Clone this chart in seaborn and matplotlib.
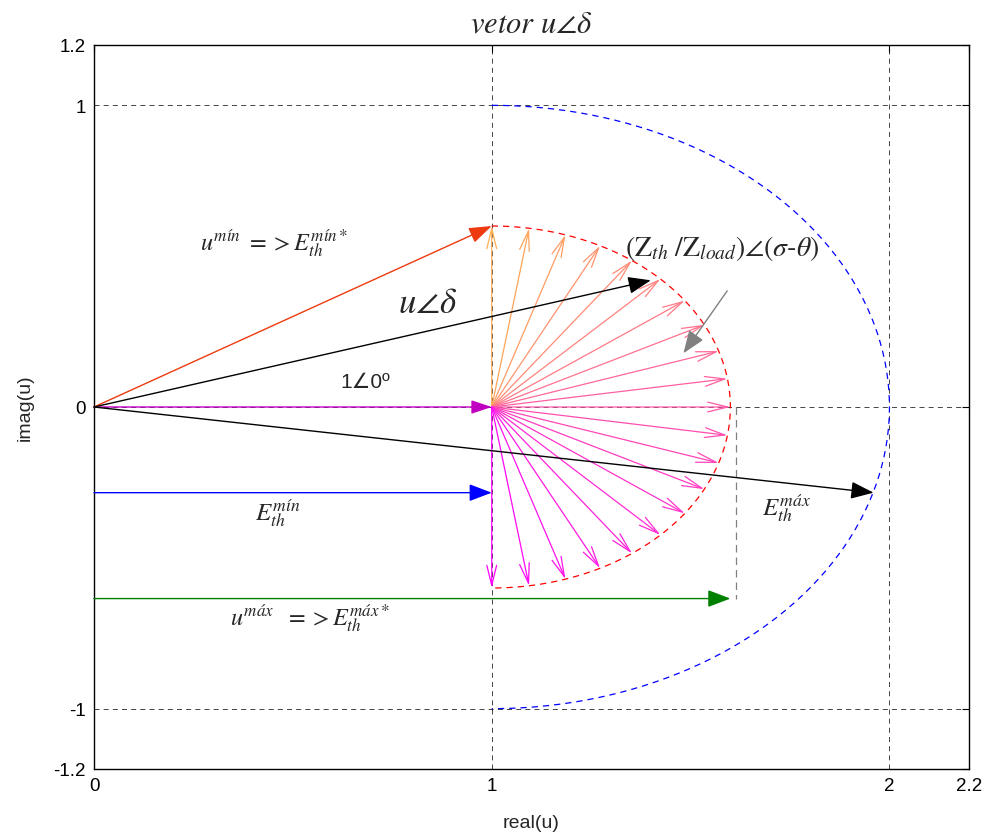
import numpy as np
import matplotlib
matplotlib.use("Agg")
import matplotlib.pyplot as plt
import seaborn as sns
import pandas as pd

# ---- data -------------------------------------------------------------
center = 1.0                      # centre of both arcs on the real axis
r_small = 0.6                     # |Zth/Zload|
r_large = 1.0                     # locus of E_th
fan_angles_deg = [90, 81, 72, 63, 54, 45, 36, 27, 18, 9, 0,
                  -9, -18, -27, -36, -45, -54, -63, -72, -81, -90]
u_delta_tip = (1.40, 0.42)
e_max_tip = (1.96, -0.284)
e_min_y = -0.284
u_max_y = -0.635
u_max_x = 1.6
xticks = [0, 1, 2, 2.2]
yticks = [-1.2, -1, 0, 1, 1.2]
xtick_labels = ["0", "1", "2", "2.2"]
ytick_labels = ["-1.2", "-1", "0", "1", "1.2"]

sns.set_style("white")
plt.rcParams["font.family"] = ["Liberation Sans", "DejaVu Sans"]
plt.rcParams["mathtext.fontset"] = "stix"

fig = plt.figure(figsize=(9.91, 8.37), dpi=100)
ax = fig.add_axes([94 / 991, 1 - 770 / 837, (969 - 94) / 991, (770 - 46) / 837])

# ---- arcs ---------------------------------------------------------------
phi = np.linspace(np.pi / 2, -np.pi / 2, 200)
arcs = pd.DataFrame({
    "x": np.concatenate([center + r_large * np.cos(phi), center + r_small * np.cos(phi)]),
    "y": np.concatenate([r_large * np.sin(phi), r_small * np.sin(phi)]),
    "arc": ["large"] * len(phi) + ["small"] * len(phi),
})
sns.lineplot(data=arcs, x="x", y="y", hue="arc", sort=False, estimator=None,
             palette={"large": "#0000ff", "small": "#ff0000"},
             linestyle=(0, (5, 4)), linewidth=0.9, legend=False, ax=ax)


def arrow(x0, y0, x1, y1, color, style="-|>", lw=0.9, hl=0.9, hw=0.3, ms=14):
    props = dict(arrowstyle=f"{style},head_length={hl},head_width={hw}", color=color,
                 lw=lw, shrinkA=0, shrinkB=0, mutation_scale=ms)
    ax.annotate("", xy=(x1, y1), xytext=(x0, y0), arrowprops=props, zorder=5)


# ---- fan of Zth/Zload vectors --------------------------------------------
cmap = plt.get_cmap("spring")
n = len(fan_angles_deg)
for i, a in enumerate(fan_angles_deg):
    t = 0.68 * (n - 1 - i) / (n - 1)
    th = np.deg2rad(a)
    arrow(center, 0, center + r_small * np.cos(th), r_small * np.sin(th),
          cmap(t), style="->", lw=0.9, hl=0.9, hw=0.22, ms=16)

# ---- main vectors ---------------------------------------------------------
arrow(0, 0, 1.0, 0.0, "#c000c0", lw=1.0)
arrow(0, 0, center, r_small, "#ee3a10", lw=1.0, hl=1.0, hw=0.35)
arrow(0, 0, *u_delta_tip, "black", lw=1.0, hl=1.0, hw=0.38)
arrow(0, 0, *e_max_tip, "black", lw=1.0, hl=1.0, hw=0.38)
arrow(0, e_min_y, 1.0, e_min_y, "#0000ff", lw=1.0, hl=1.0, hw=0.38)
arrow(0, u_max_y, u_max_x, u_max_y, "#008000", lw=1.0, hl=1.0, hw=0.38)
arrow(1.592, 0.385, 1.482, 0.178, "#808080", lw=1.0, hl=1.0, hw=0.38)
ax.plot([1.613, 1.613], [0, u_max_y], color="#808080", lw=0.9, ls=(0, (6, 4)), zorder=3)

# ---- labels --------------------------------------------------------------
ax.text(0.267, 0.545, r"$u^{mín}\ => E_{th}^{mín*}$", fontsize=17.5, va="center")
ax.text(0.765, 0.345, r"$u\angle\delta$", fontsize=25, va="center")
ax.text(0.62, 0.085, "1∠0º", fontsize=15, va="center",
        family=["Liberation Sans", "DejaVu Sans"])
ax.text(1.336, 0.53, r"$(\mathrm{Z}_{th}\ /\mathrm{Z}_{load})\angle(\sigma$-$\theta)$",
        fontsize=20, va="center")
ax.text(0.405, -0.35, r"$E_{th}^{mín}$", fontsize=18, va="center")
ax.text(1.68, -0.335, r"$E_{th}^{máx}$", fontsize=18, va="center")
ax.text(0.342, -0.70, r"$u^{máx}\ \ => E_{th}^{máx*}$", fontsize=17.5, va="center")

ax.set_title(r"$vetor\ u\angle\delta$", fontsize=22, pad=10)
ax.set_xlabel("real(u)", fontsize=14, labelpad=14)
ax.set_ylabel("imag(u)", fontsize=14, labelpad=14)

# ---- axes ------------------------------------------------------------------
ax.set_xlim(0, 2.2)
ax.set_ylim(-1.2, 1.2)
ax.set_xticks(xticks)
ax.set_xticklabels(xtick_labels)
ax.set_yticks(yticks)
ax.set_yticklabels(ytick_labels)
ax.tick_params(direction="in", length=5, width=0.8, top=True, right=True,
               labelsize=13.5, colors="black", pad=6)
ax.grid(True, color="black", linestyle=(0, (6, 5)), linewidth=0.6, alpha=0.85)
for s in ax.spines.values():
    s.set_color("black")
    s.set_linewidth(1.0)

fig.savefig("out.png", dpi=100, facecolor="white")
